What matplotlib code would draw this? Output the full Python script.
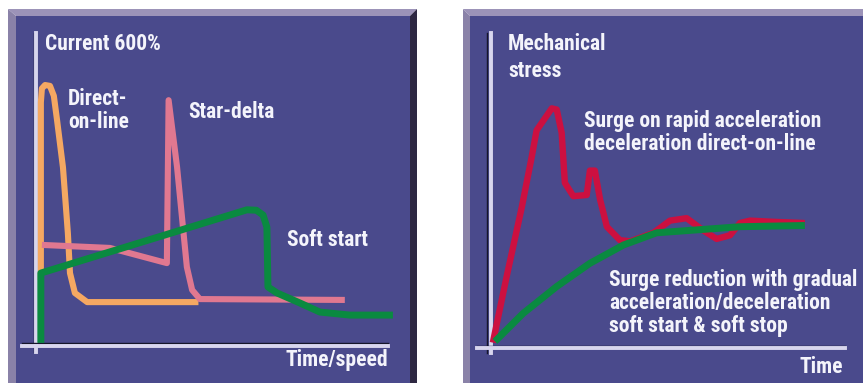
import matplotlib.pyplot as plt
from matplotlib.patches import Polygon
from matplotlib import font_manager

# --- data (time in arbitrary units 0-100) ---
# left panel: starting current in % of rated current
dol_t = [1.1, 1.1, 1.4, 2.3, 3.7, 4.8, 5.7, 7.4, 8.8, 9.4, 10.8, 14.3, 46.0]
dol_i = [150, 560, 592, 600, 598, 575, 520, 410, 258, 166, 120, 99, 99]

sd_t = [1.4, 20.8, 37.0, 37.5, 39.9, 42.7, 44.2, 46.4, 87.7]
sd_i = [231, 224, 189, 565, 411, 180, 127, 106, 104]

ss_t = [1.1, 1.1, 59.8, 62.5, 64.4, 65.5, 65.8, 68.4, 74.9, 80.6, 89.2, 101.4]
ss_i = [5, 166, 312, 311, 300, 272, 134, 120, 97, 76, 69, 69]

# right panel: mechanical stress (steady state = 100)
dol_st_t = [0.8, 4.7, 9.0, 11.8, 13.2, 17.5, 18.9, 20.3, 21.2, 23.6, 27.4, 28.3,
            29.7, 31.2, 33.1, 36.8, 39.7, 46.3, 51.0, 55.7, 60.4, 64.2, 68.0,
            70.8, 73.7, 80.3, 89.2]
dol_st_s = [2, 56, 113, 154, 176, 194, 193, 174, 133, 122, 123, 143,
            143, 119, 97, 86, 85, 92, 102, 104, 94, 87, 90,
            100, 102, 101, 100]

soft_st_t = [1.4, 9.4, 18.9, 28.3, 37.8, 47.2, 56.7, 70.8, 89.2]
soft_st_s = [3, 26, 48, 67, 82, 92, 94, 97, 98]

W, H = 863, 383
BG = '#4a4a8c'
WHITE = '#f4f4fb'

installed = {f.name for f in font_manager.fontManager.ttflist}
FONT = [n for n in ('Roboto Condensed', 'Liberation Sans Narrow', 'DejaVu Sans')
        if n in installed] or ['DejaVu Sans']

fig = plt.figure(figsize=(W / 100, H / 100), dpi=100)
fig.patch.set_facecolor('white')


def fx(x, y):
    return x / W, 1 - y / H


def bevel(pts, color):
    fig.patches.append(Polygon([fx(*p) for p in pts], closed=True,
                               transform=fig.transFigure, facecolor=color,
                               edgecolor='none', zorder=0))


# panel frames
bevel([(8, 9), (417, 9), (410, 16), (16, 16)], '#9c93b8')
bevel([(8, 9), (16, 16), (16, 383), (8, 383)], '#8a82a8')
bevel([(410, 16), (417, 9), (417, 383), (410, 383)], '#2e2842')
bevel([(463, 9), (863, 9), (863, 16), (470, 16)], '#9c93b8')
bevel([(463, 9), (470, 16), (470, 383), (463, 383)], '#8a82a8')

# left axes: x=0 at px 37 (3.51 px/unit), y=0 at px 345 (0.4333 px/unit)
axL = fig.add_axes([16 / W, 0, 394 / W, 367 / H])
axL.set_xlim(-5.98, 106.27)
axL.set_ylim(-87.7, 759.3)
# right axes: x=0 at px 490 (3.53 px/unit), y=0 at px 345 (1.22 px/unit)
axR = fig.add_axes([470 / W, 0, 393 / W, 367 / H])
axR.set_xlim(-5.67, 105.67)
axR.set_ylim(-31.1, 269.7)

for ax in (axL, axR):
    ax.set_facecolor(BG)
    ax.set_axis_off()
    ax.add_patch(plt.Rectangle((0, 0), 1, 1, transform=ax.transAxes,
                               facecolor=BG, edgecolor='none', zorder=0))

# axis lines
axL.plot([-0.9, -0.9], [-16, 720], color='#15152a', lw=1.0, zorder=2)
axL.plot([-0.4, -0.4], [-16, 720], color='#d8d6ee', lw=2.8, zorder=2)
axL.plot([-4.3, 100], [3.5, 3.5], color='#15152a', lw=1.0, zorder=2)
axL.plot([-4.3, 100], [-1.2, -1.2], color='#d8d6ee', lw=2.8, zorder=2)

axR.plot([-0.9, -0.9], [-6.6, 255.7], color='#15152a', lw=1.0, zorder=2)
axR.plot([0.2, 0.2], [-6.6, 255.7], color='#d8d6ee', lw=2.8, zorder=2)
axR.plot([-3.8, 100.6], [-0.5, -0.5], color='#15152a', lw=1.0, zorder=2)
axR.plot([-3.8, 100.6], [-2.3, -2.3], color='#d8d6ee', lw=2.8, zorder=2)

kw = dict(solid_joinstyle='round', solid_capstyle='butt', zorder=3)
axL.plot(dol_t, dol_i, color='#f5a862', lw=4.4, **kw)
axL.plot(sd_t, sd_i, color='#e07890', lw=4.4, **kw)
axL.plot(ss_t, ss_i, color='#0a8a40', lw=5.0, **kw)

axR.plot(dol_st_t, dol_st_s, color='#cc1040', lw=4.6, **kw)
axR.plot(soft_st_t, soft_st_s, color='#0a8a40', lw=5.0, **kw)

# va='baseline' on multi-line text anchors the last line's baseline
tkw = dict(color=WHITE, fontsize=15.5, fontweight='bold', family=FONT,
           va='baseline', linespacing=1.05)
fig.text(*fx(45, 50), 'Current 600%', **tkw)
fig.text(*fx(68, 128), 'Direct-\non-line', **tkw)
fig.text(*fx(188, 118), 'Star-delta', **tkw)
fig.text(*fx(287, 246), 'Soft start', **tkw)
fig.text(*fx(388, 366), 'Time/speed', ha='right', **tkw)

fig.text(*fx(508, 77), 'Mechanical\nstress', **{**tkw, 'linespacing': 1.28})
fig.text(*fx(584, 150), 'Surge on rapid acceleration\ndeceleration direct-on-line', **tkw)
fig.text(*fx(609, 332), 'Surge reduction with gradual\nacceleration/deceleration\nsoft start & soft stop', **tkw)
fig.text(*fx(843, 373), 'Time', ha='right', **tkw)

fig.savefig('out.png', dpi=100)
